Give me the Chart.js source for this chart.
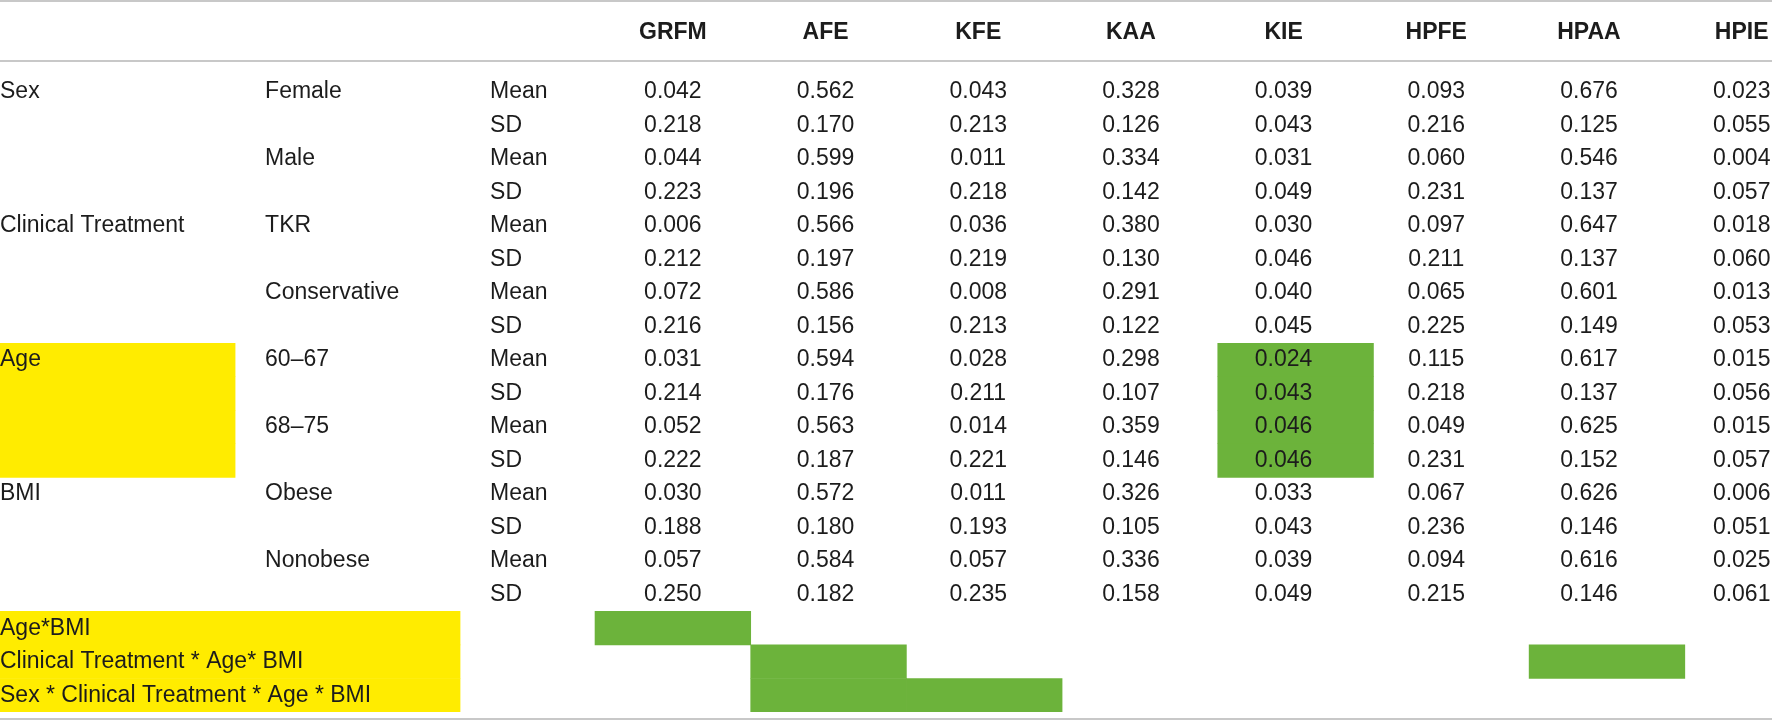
<!DOCTYPE html>
<html>
<head>
<meta charset="utf-8">
<script src="https://cdn.jsdelivr.net/npm/chart.js@4.4.1/dist/chart.umd.min.js"></script>
<style>
  html, body { margin: 0; padding: 0; background: #fff; }
  canvas { display: block; }
</style>
</head>
<body>
<canvas id="table" width="1772" height="720"></canvas>
<script>
const variables = ['GRFM', 'AFE', 'KFE', 'KAA', 'KIE', 'HPFE', 'HPAA', 'HPIE'];
const factors = ['Sex', 'Clinical Treatment', 'Age', 'BMI'];
const levels = [['Female', 'Male'], ['TKR', 'Conservative'], ['60–67', '68–75'], ['Obese', 'Nonobese']];
const stats = ['Mean', 'SD'];
const interactions = ['Age*BMI', 'Clinical Treatment * Age* BMI', 'Sex * Clinical Treatment * Age * BMI'];

// one value per row: Female Mean/SD, Male Mean/SD, TKR, Conservative, 60–67, 68–75, Obese, Nonobese
const grfm = [0.042, 0.218, 0.044, 0.223, 0.006, 0.212, 0.072, 0.216, 0.031, 0.214, 0.052, 0.222, 0.030, 0.188, 0.057, 0.250];
const afe = [0.562, 0.170, 0.599, 0.196, 0.566, 0.197, 0.586, 0.156, 0.594, 0.176, 0.563, 0.187, 0.572, 0.180, 0.584, 0.182];
const kfe = [0.043, 0.213, 0.011, 0.218, 0.036, 0.219, 0.008, 0.213, 0.028, 0.211, 0.014, 0.221, 0.011, 0.193, 0.057, 0.235];
const kaa = [0.328, 0.126, 0.334, 0.142, 0.380, 0.130, 0.291, 0.122, 0.298, 0.107, 0.359, 0.146, 0.326, 0.105, 0.336, 0.158];
const kie = [0.039, 0.043, 0.031, 0.049, 0.030, 0.046, 0.040, 0.045, 0.024, 0.043, 0.046, 0.046, 0.033, 0.043, 0.039, 0.049];
const hpfe = [0.093, 0.216, 0.060, 0.231, 0.097, 0.211, 0.065, 0.225, 0.115, 0.218, 0.049, 0.231, 0.067, 0.236, 0.094, 0.215];
const hpaa = [0.676, 0.125, 0.546, 0.137, 0.647, 0.137, 0.601, 0.149, 0.617, 0.137, 0.625, 0.152, 0.626, 0.146, 0.616, 0.146];
const hpie = [0.023, 0.055, 0.004, 0.057, 0.018, 0.060, 0.013, 0.053, 0.015, 0.056, 0.015, 0.057, 0.006, 0.051, 0.025, 0.061];
const columns = [grfm, afe, kfe, kaa, kie, hpfe, hpaa, hpie];

// highlighted terms: yellow label cells, green = significant variables
const highlightedFactors = ['Age'];
const factorEffects = { Age: ['KIE'] };
const interactionEffects = [['GRFM'], ['AFE', 'HPAA'], ['AFE', 'KFE']];

const yellow = '#ffec00';
const green = '#6cb33b';
const ruleColor = '#c8c8c8';
const textColor = '#1c1c1c';
const bodyFont = '23px "Liberation Sans", Arial, sans-serif';
const headFont = 'bold 23px "Liberation Sans", Arial, sans-serif';

// label columns, widths in data-column units (each variable column is 1 wide)
const labelWidths = [1.51, 1.445, 0.867];
const xMin = -(labelWidths[0] + labelWidths[1] + labelWidths[2]);
const xMax = 7.56;
const levelStart = xMin + labelWidths[0];
const statStart = levelStart + labelWidths[1];

// row keys for the category axis
const rows = [];
factors.forEach((f, fi) => {
  levels[fi].forEach((lv) => {
    stats.forEach((s) => rows.push({ factor: f, level: lv, stat: s }));
  });
});
interactions.forEach((term) => rows.push({ term }));
const rowKeys = rows.map((r, i) => 'r' + i);

const yellowCells = [];
const greenCells = [];
rows.forEach((r, i) => {
  if (r.term) {
    yellowCells.push({ y: rowKeys[i], x: [xMin, statStart] });
    interactionEffects[interactions.indexOf(r.term)].forEach((v) => {
      const c = variables.indexOf(v);
      greenCells.push({ y: rowKeys[i], x: [c, c + 1] });
    });
  } else if (highlightedFactors.includes(r.factor)) {
    yellowCells.push({ y: rowKeys[i], x: [xMin, levelStart] });
    (factorEffects[r.factor] || []).forEach((v) => {
      const c = variables.indexOf(v);
      greenCells.push({ y: rowKeys[i], x: [c, c + 1] });
    });
  }
});

const tablePlugin = {
  id: 'tableText',
  afterDatasetsDraw(chart) {
    const { ctx, scales: { x, y } } = chart;
    const W = chart.width;
    ctx.save();
    // rules
    ctx.strokeStyle = ruleColor;
    ctx.lineWidth = 2;
    [1, 61, 719].forEach((ry) => {
      ctx.beginPath();
      ctx.moveTo(0, ry);
      ctx.lineTo(W, ry);
      ctx.stroke();
    });

    ctx.fillStyle = textColor;
    ctx.textBaseline = 'middle';
    const colCenter = (c) => x.getPixelForValue(c + 0.5) - 3 * c;

    ctx.font = headFont;
    ctx.textAlign = 'center';
    variables.forEach((v, c) => ctx.fillText(v, colCenter(c), 33));

    ctx.font = bodyFont;
    const pad = 30;
    rows.forEach((r, i) => {
      const py = y.getPixelForValue(i);
      ctx.textAlign = 'left';
      if (r.term) {
        ctx.fillText(r.term, x.getPixelForValue(xMin), py);
        return;
      }
      const within = i % 4;
      if (within === 0) ctx.fillText(r.factor, x.getPixelForValue(xMin), py);
      if (within % 2 === 0) ctx.fillText(r.level, x.getPixelForValue(levelStart) + pad, py);
      ctx.fillText(r.stat, x.getPixelForValue(statStart) + pad, py);
      ctx.textAlign = 'center';
      columns.forEach((col, c) => ctx.fillText(col[i].toFixed(3), colCenter(c), py));
    });
    ctx.restore();
  },
};

new Chart(document.getElementById('table'), {
  type: 'bar',
  data: {
    labels: rowKeys,
    datasets: [
      { data: yellowCells, backgroundColor: yellow, grouped: false, borderWidth: 0 },
      { data: greenCells, backgroundColor: green, grouped: false, borderWidth: 0 },
    ],
  },
  options: {
    indexAxis: 'y',
    responsive: false,
    animation: false,
    devicePixelRatio: 1,
    categoryPercentage: 1,
    barPercentage: 1,
    layout: { padding: { top: 75, bottom: 8, left: 0, right: 0 } },
    scales: {
      x: { type: 'linear', min: xMin, max: xMax, display: false },
      y: { type: 'category', display: false },
    },
    plugins: { legend: { display: false }, tooltip: { enabled: false } },
  },
  plugins: [tablePlugin],
});
</script>
</body>
</html>
